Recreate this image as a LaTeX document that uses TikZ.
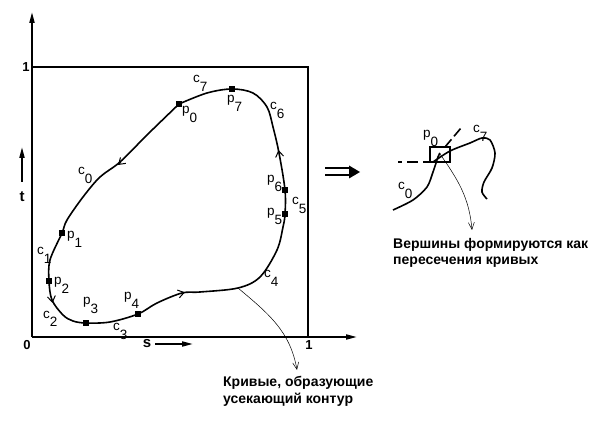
\documentclass[tikz,border=0pt]{standalone}
\usepackage{fontspec}
\setmainfont{Liberation Sans}
\usetikzlibrary{arrows.meta}

\newcommand{\lbl}[2]{#1\raisebox{-0.6em}{#2}}

\begin{document}
\begin{tikzpicture}[x=1pt,y=1pt,
  vtx/.style={fill,rectangle,inner sep=0pt,minimum size=6pt},
  lab/.style={anchor=base west,inner sep=0pt,font=\fontsize{13.5}{15}\selectfont},
  ax lab/.style={inner sep=0pt,font=\fontsize{13}{15}\selectfont\bfseries},
  curve/.style={line width=1.6pt},
  axis/.style={line width=1.8pt,-{Triangle[length=11pt,width=5pt]}},
  tip/.style={-{Straight Barb[length=6pt,width=8pt]},line width=1pt},
  lead/.style={line width=0.5pt,-{Straight Barb[length=7pt,width=6pt]}},
  note/.style={align=left,anchor=north west,inner sep=0pt,font=\fontsize{14}{16}\selectfont\bfseries}]
\useasboundingbox (0,0) rectangle (599,431);

% axes and unit square
\coordinate (o) at (32,94);
\coordinate (top) at (32,419);
\coordinate (right) at (357,94);
\draw[axis] (o) -- (top);
\draw[axis] (o) -- (right);
\draw[line width=1.6pt] (32,364) -- (308,364) -- (308,94);
\node[ax lab] (one t) at (26,364) {1};
\node[ax lab] (zero) at (27,86) {0};
\node[ax lab] (one s) at (309,86) {1};
\draw[axis] (22,249) -- (22,284);
\node[ax lab,font=\fontsize{15}{17}\selectfont\bfseries] (t) at (22,234) {t};
\node[ax lab,font=\fontsize{15}{17}\selectfont\bfseries] (s) at (147,87) {s};
\draw[axis] (155,87) -- (193,87);

% trimming contour
\draw[curve] plot[smooth,tension=0.55] coordinates {(179,327) (148,297) (120,269) (100,254)
  (83,234) (67,211) (62,198) (50,171) (49,150) (52,131) (63,116) (73,110) (86,108)
  (110,109) (138,117) (157,128) (182,138) (200,139) (238,143) (260,154) (277,181)
  (283,204) (285,217) (285,241) (279,278) (273,304) (267,324) (253,338) (232,342)
  (207,338) (179,327)};
\foreach \n/\x/\y in {0/179/327,1/62/198,2/49/150,3/86/108,4/138/117,5/285/217,6/285/241,7/232/342}
  \node[vtx] (p\n) at (\x,\y) {};
\draw[tip] (121,268.7) -- (118,266);
\draw[tip] (52,131) -- (52.5,128);
\draw[tip] (182,138) -- (185,138.8);
\draw[tip] (279,278) -- (278.5,281);

\node[lab] (lc7) at (193,348) {\lbl{c}{7}};
\node[lab] (lp7) at (227,328) {\lbl{p}{7}};
\node[lab] (lp0) at (182,317) {\lbl{p}{0}};
\node[lab] (lc6) at (270,321) {\lbl{c}{6}};
\node[lab] (lc0) at (78,256) {\lbl{c}{0}};
\node[lab] (lp6) at (267,248) {\lbl{p}{6}};
\node[lab] (lc5) at (292,226) {\lbl{c}{5}};
\node[lab] (lp5) at (267,215) {\lbl{p}{5}};
\node[lab] (lp1) at (67,192) {\lbl{p}{1}};
\node[lab] (lc1) at (37,176) {\lbl{c}{1}};
\node[lab] (lp2) at (54,146) {\lbl{p}{2}};
\node[lab] (lc2) at (43,113) {\lbl{c}{2}};
\node[lab] (lp3) at (83,126) {\lbl{p}{3}};
\node[lab] (lc3) at (113,100) {\lbl{c}{3}};
\node[lab] (lp4) at (124,131) {\lbl{p}{4}};
\node[lab] (lc4) at (264,153) {\lbl{c}{4}};

\coordinate (flat) at (238,143);
\node[note] (curves) at (223,55) {Кривые, образующие\\[1pt]усекающий контур};
\draw[lead] (flat) to[out=-40,in=100] (297,61);

% implies
\draw[line width=2pt] (325,262.5) -- (352,262.5);
\draw[line width=2pt] (325,255.5) -- (352,255.5);
\fill (349,265.5) -- (360,259) -- (349,252.5) -- cycle;

% detail of a vertex
\draw[curve] plot[smooth] coordinates {(393,221) (413,231) (427,244) (433,259) (438,274) (440,278)};
\draw[curve,dash pattern=on 10pt off 4pt] (445,284) -- (461,303);
\draw[curve,dash pattern=on 4pt off 5pt on 11pt off 5pt on 10pt off 0pt] (398,269) -- (433,269);
\draw[curve] plot[smooth] coordinates {(433,269) (450,280) (470,288) (482,293) (490,291)
  (495,278) (492,263) (484,249) (482,239) (487,232)};
\node[draw,line width=1.2pt,minimum width=20pt,minimum height=15pt,inner sep=0pt] (box) at (440,276.5) {};
\node[lab] (lq0) at (423,293) {\lbl{p}{0}};
\node[lab] (lq7) at (473,298) {\lbl{c}{7}};
\node[lab] (lq0c) at (398,241) {\lbl{c}{0}};
\coordinate (cross) at (440,277);
\node[note] (verts) at (393,193) {Вершины формируются как\\пересечения кривых};
\draw[lead] (cross) to[out=-55,in=95] (472,201);
\end{tikzpicture}
\end{document}
